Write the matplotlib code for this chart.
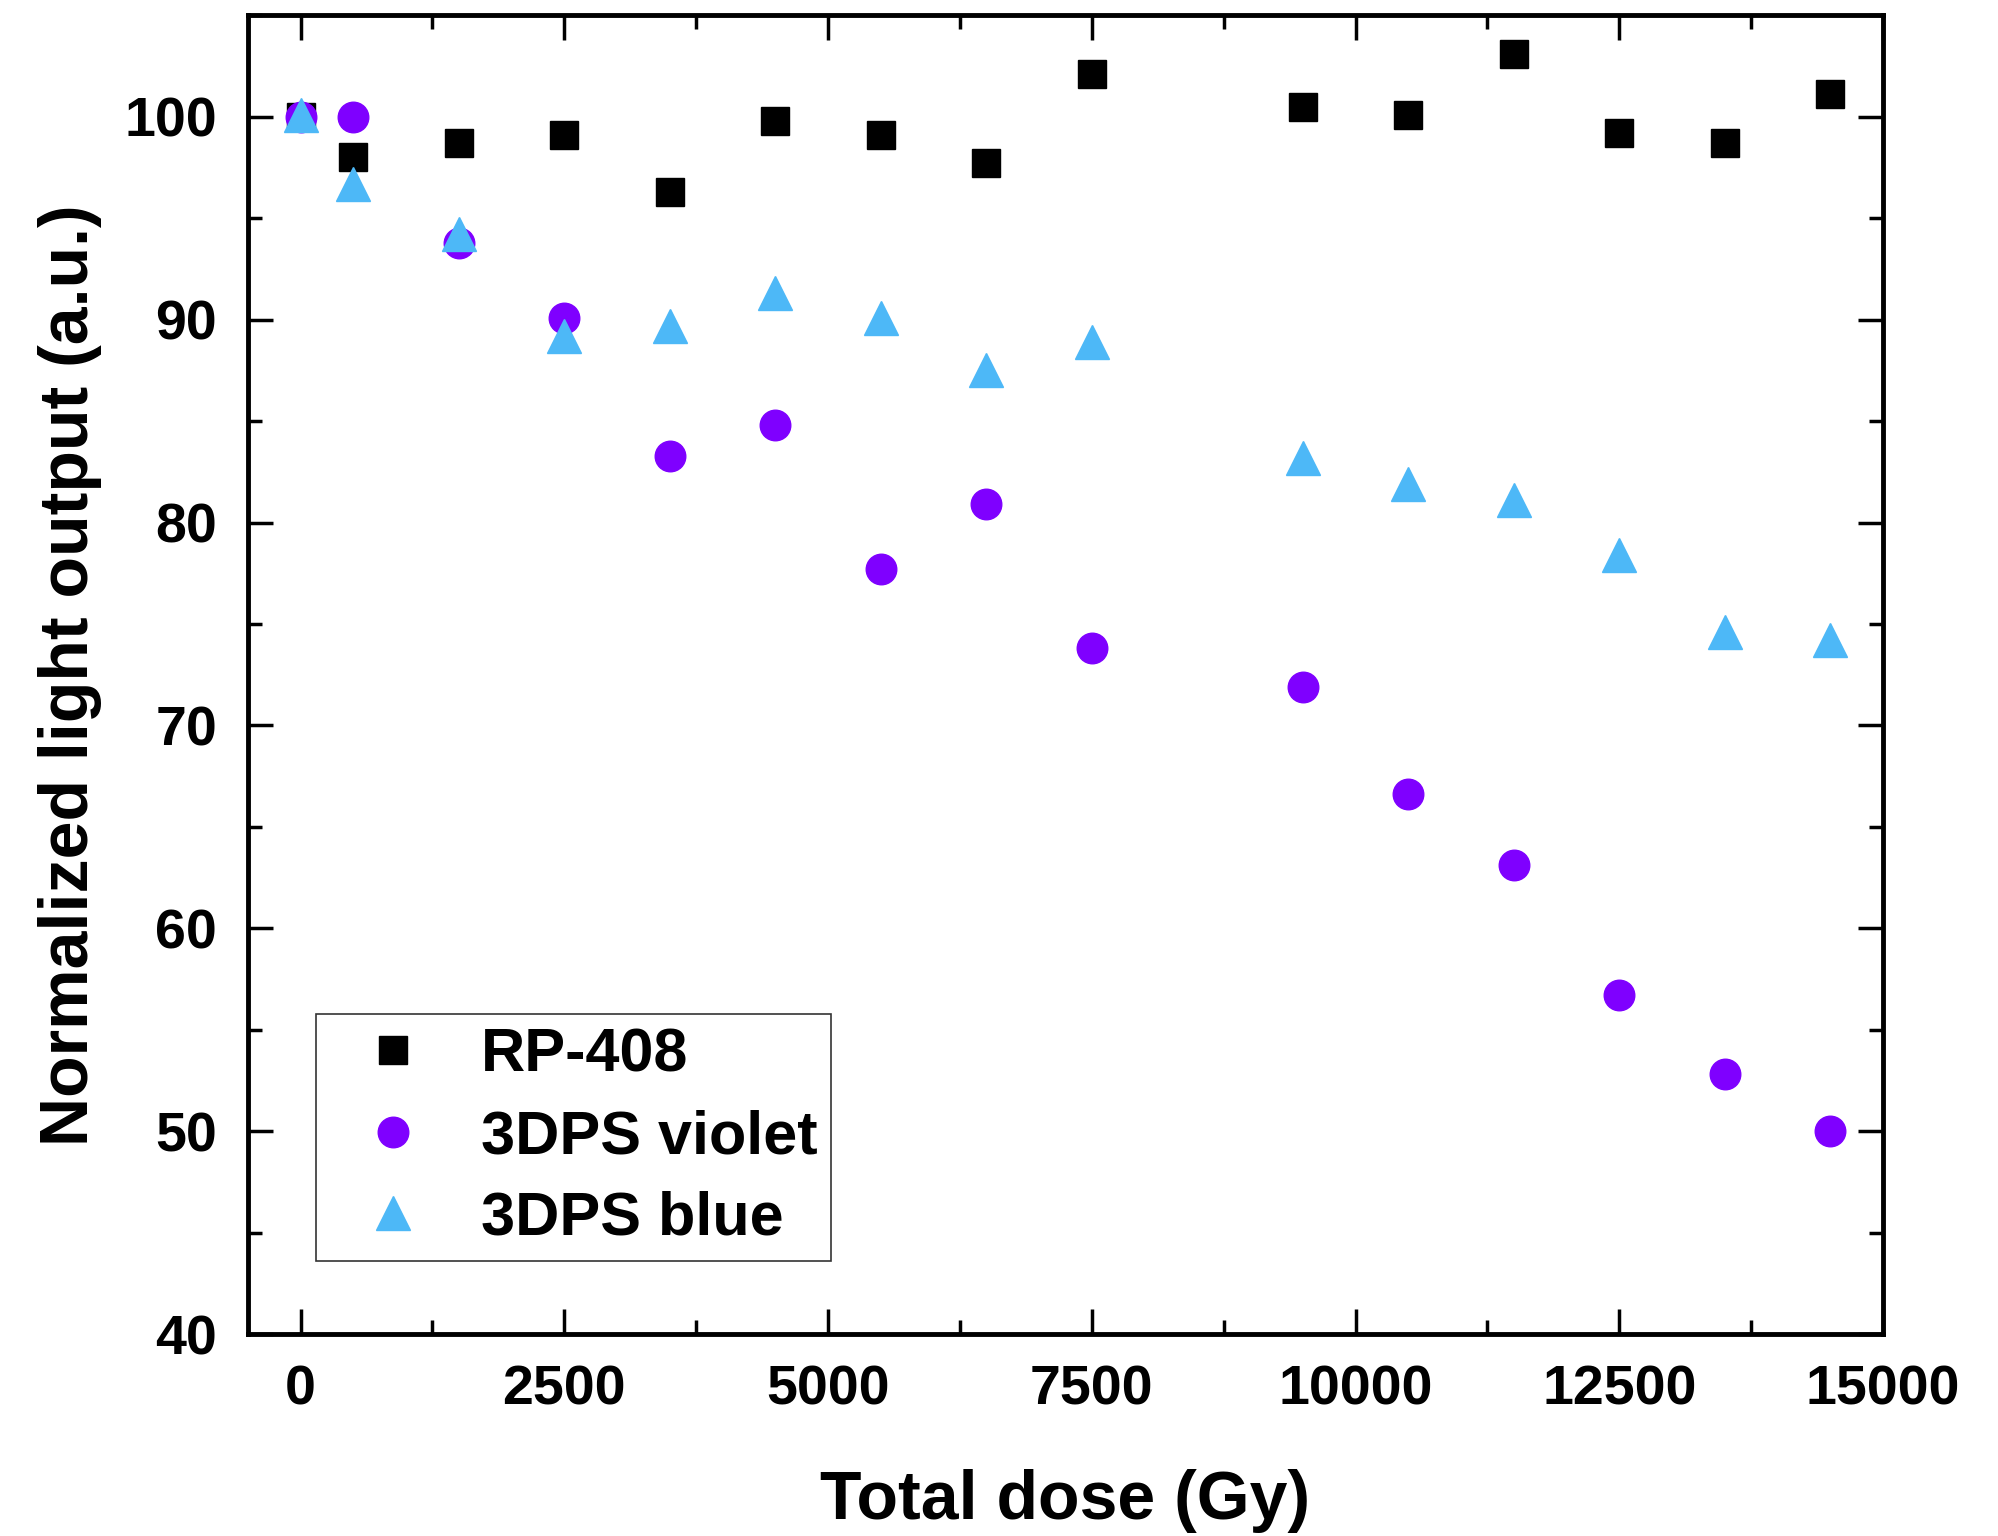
import numpy as np
import matplotlib
matplotlib.use("Agg")
import matplotlib.pyplot as plt
from matplotlib.ticker import MultipleLocator

plt.rcParams['font.family'] = ['Liberation Sans', 'DejaVu Sans']
plt.rcParams['font.weight'] = 'bold'

# Данные (доза, Гр)
dose = [0, 500, 1500, 2500, 3500, 4500, 5500, 6500, 7500,
        9500, 10500, 11500, 12500, 13500, 14500]
rp408 = [100, 98.0, 98.7, 99.1, 96.3, 99.8, 99.1, 97.7, 102.1,
         100.5, 100.1, 103.1, 99.2, 98.7, 101.1]
violet = [100, 100, 93.8, 90.1, 83.3, 84.8, 77.7, 80.9, 73.8,
          71.9, 66.6, 63.1, 56.7, 52.8, 50.0]
blue = [100.1, 96.7, 94.2, 89.2, 89.7, 91.3, 90.1, 87.5, 88.9,
        83.2, 81.9, 81.1, 78.4, 74.6, 74.2]
labels = ["RP-408", "3DPS violet", "3DPS blue"]

fig = plt.figure(figsize=(19.98, 15.36), dpi=100)
ax = fig.add_axes([0.124, 0.1315, 0.8185, 0.8585])

ax.plot(dose, rp408, ls='none', marker='s', ms=20, color='black', label=labels[0])
ax.plot(dose, violet, ls='none', marker='o', ms=22, color='#7F00FF', label=labels[1])
ax.plot(dose, blue, ls='none', marker='^', ms=25, color='#4DB8F7', label=labels[2])

ax.set_xlim(-500, 15000)
ax.set_ylim(40, 105)
ax.xaxis.set_major_locator(MultipleLocator(2500))
ax.xaxis.set_minor_locator(MultipleLocator(1250))
ax.yaxis.set_major_locator(MultipleLocator(10))
ax.yaxis.set_minor_locator(MultipleLocator(5))

ax.tick_params(which='both', direction='in', top=True, right=True, width=2.5)
ax.tick_params(which='major', length=18, labelsize=40, pad=22)
ax.tick_params(which='minor', length=10)
for s in ax.spines.values():
    s.set_linewidth(3.5)

ax.set_xlabel("Total dose (Gy)", fontsize=49, fontweight='bold', labelpad=38)
ax.set_ylabel("Normalized light output (a.u.)", fontsize=49, fontweight='bold', labelpad=16)

leg = ax.legend(loc='lower left', bbox_to_anchor=(0.0416, 0.0553), borderaxespad=0,
                fontsize=44, frameon=True, fancybox=False, borderpad=0.22,
                labelspacing=0.4, handlelength=2.1, handletextpad=0.38)
leg.get_frame().set_edgecolor('black')
leg.get_frame().set_linewidth(1.2)

fig.savefig("out.png", dpi=100)
